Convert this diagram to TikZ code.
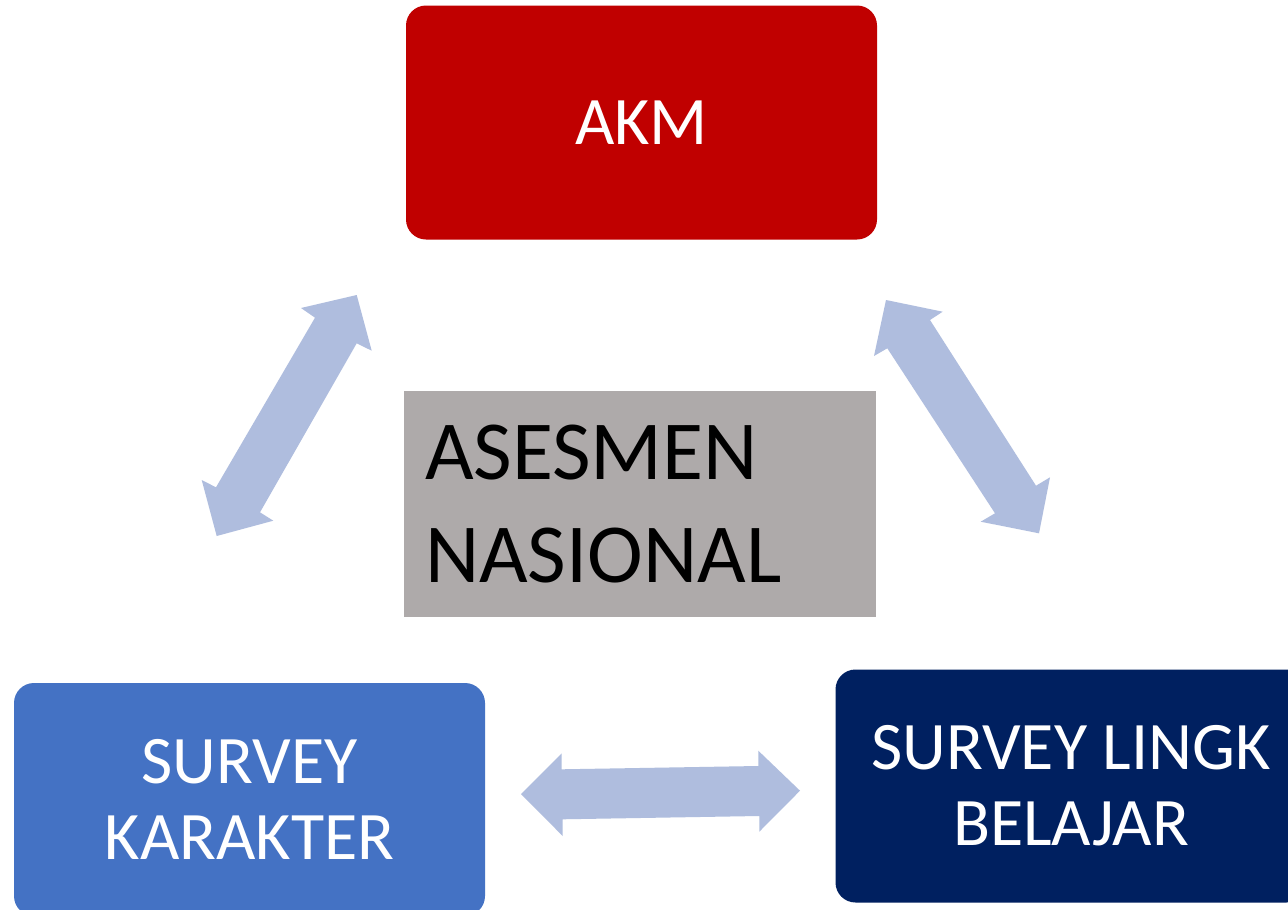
\documentclass[tikz,border=0pt]{standalone}
\usepackage{fontspec}
\setmainfont{Carlito}
\definecolor{akmred}{HTML}{C00000}
\definecolor{asgray}{HTML}{AEAAAA}
\definecolor{skblue}{HTML}{4472C4}
\definecolor{slnavy}{HTML}{002060}
\definecolor{arrfill}{RGB}{175,189,222}
\tikzset{
  boxbase/.style={rectangle, rounded corners=20pt, minimum width=471pt, minimum height=233pt,
    inner sep=0pt, text=white, align=center, font=\fontsize{68}{76}\selectfont},
  blockarrow/.style={fill=arrfill, draw=none}
}
\begin{document}
\begin{tikzpicture}[x=1pt,y=-1pt]
\useasboundingbox (0,0) rectangle (1288,910);
\clip (0,0) rectangle (1288,910);
\fill[white] (0,0) rectangle (1288,910);
% boxes
\node[boxbase, fill=akmred, minimum height=234pt] (akm) at (641.5,122.5) {AKM};
\node[rectangle, fill=asgray, minimum width=472pt, minimum height=226pt, inner sep=0pt,
  text width=430pt, align=left, text=black, font=\fontsize{84}{102.3}\selectfont]
  (asn) at (640,504) {ASESMEN\\NASIONAL};
\node[boxbase, fill=skblue] (skar) at (249.5,799.5) {SURVEY\\KARAKTER};
\node[boxbase, fill=slnavy] (slb) at (1071,786) {SURVEY LINGK\\BELAJAR};
% left diagonal double arrow (AKM <-> SURVEY KARAKTER)
\fill[blockarrow] (356.7,295) -- (371.7,350.7) -- (356.7,343.3) -- (260,512.3) -- (273.3,520.7)
  -- (216.7,536) -- (201.7,480) -- (216,487.3) -- (315,317.7) -- (301,308) -- cycle;
% right diagonal double arrow (AKM <-> SURVEY LINGK BELAJAR)
\fill[blockarrow] (886,300) -- (942.7,311.7) -- (930,320) -- (1036,485.7) -- (1050,477.3)
  -- (1039,533.3) -- (980.7,521.7) -- (995,513.3) -- (887.3,348.3) -- (874,356) -- cycle;
% horizontal double arrow (SURVEY KARAKTER <-> SURVEY LINGK BELAJAR)
\fill[blockarrow] (521,794) -- (561.7,753.3) -- (561.7,769.3) -- (758.3,766) -- (758.3,750.7)
  -- (800,790.7) -- (759.3,831.7) -- (759.3,816) -- (562.7,819.3) -- (562.7,836) -- cycle;
\end{tikzpicture}
\end{document}
